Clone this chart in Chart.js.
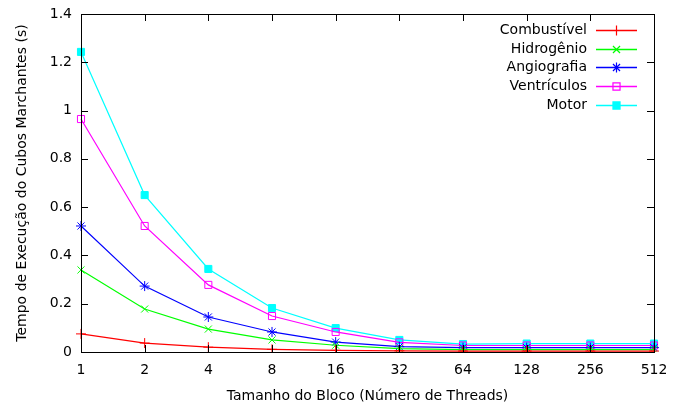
<!DOCTYPE html>
<html><head><meta charset="utf-8">
<script src="https://cdn.jsdelivr.net/npm/chart.js@4"></script>
<style>html,body{margin:0;padding:0;background:#fff}#wrap{width:677px;height:409px}</style>
</head><body><div id="wrap"><canvas id="c" width="677" height="409"></canvas></div>
<script>
const categories = ['1','2','4','8','16','32','64','128','256','512'];
const combustivel = [0.075,0.037,0.020,0.011,0.007,0.005,0.004,0.004,0.004,0.004];
const hidrogenio  = [0.340,0.178,0.095,0.050,0.028,0.014,0.010,0.010,0.010,0.010];
const angiografia = [0.522,0.273,0.145,0.083,0.041,0.022,0.018,0.018,0.018,0.018];
const ventriculos = [0.965,0.522,0.278,0.149,0.083,0.040,0.027,0.027,0.027,0.027];
const motor       = [1.243,0.650,0.344,0.182,0.099,0.050,0.033,0.035,0.035,0.035];
const yTicks = [0,0.2,0.4,0.6,0.8,1,1.2,1.4];

const FONT = 'DejaVu Sans';
const COLORS = ['#ff0000','#00ff00','#0000ff','#ff00ff','#00ffff'];
function ds(label, data, color, style, fill) {
  return {label, data, borderColor: color, backgroundColor: fill ? color : 'rgba(0,0,0,0)',
    pointBorderColor: color, pointBackgroundColor: fill ? color : 'rgba(0,0,0,0)',
    pointStyle: style, pointRadius: 5, pointBorderWidth: 1, borderWidth: 1.2,
    tension: 0, fill: false, pointHoverRadius: 5};
}
const datasets = [
  ds('Combustível', combustivel, COLORS[0], 'cross', false),
  ds('Hidrogênio', hidrogenio, COLORS[1], 'crossRot', false),
  ds('Angiografia', angiografia, COLORS[2], 'star', false),
  ds('Ventrículos', ventriculos, COLORS[3], 'rect', false),
  ds('Motor', motor, COLORS[4], 'rect', true),
];

const framePlugin = {
  id: 'frame',
  afterDatasetsDraw(chart) {
    const {ctx, chartArea: a, scales} = chart;
    ctx.save();
    ctx.strokeStyle = '#000'; ctx.lineWidth = 1;
    ctx.strokeRect(Math.round(a.left)+0.5, Math.round(a.top)+0.5, Math.round(a.right-a.left), Math.round(a.bottom-a.top));
    const tl = 7;
    ctx.beginPath();
    scales.x.ticks.forEach((t,i)=>{
      const x = Math.round(scales.x.getPixelForTick(i))+0.5;
      ctx.moveTo(x, a.bottom); ctx.lineTo(x, a.bottom - tl);
      ctx.moveTo(x, a.top); ctx.lineTo(x, a.top + tl);
    });
    scales.y.ticks.forEach((t,i)=>{
      const y = Math.round(scales.y.getPixelForTick(i))+0.5;
      ctx.moveTo(a.left, y); ctx.lineTo(a.left + tl, y);
      ctx.moveTo(a.right, y); ctx.lineTo(a.right - tl, y);
    });
    ctx.stroke();
    ctx.restore();
    // legend
    const textRight = 587, x0 = 596, x1 = 637, y0 = 30, dy = 18.7;
    chart.data.datasets.forEach((d,i)=>{
      const y = Math.round(y0 + i*dy) + 0.5;
      const col = COLORS[i];
      ctx.save();
      ctx.font = '14px "' + FONT + '"';
      ctx.textAlign = 'right'; ctx.textBaseline = 'middle';
      ctx.fillStyle = '#000';
      ctx.fillText(d.label, textRight, y);
      ctx.restore();
      ctx.save();
      ctx.strokeStyle = col; ctx.lineWidth = 1.6;
      ctx.beginPath(); ctx.moveTo(x0, y); ctx.lineTo(x1, y); ctx.stroke();
      ctx.restore();
      ctx.save();
      ctx.lineWidth = 1.2;
      ctx.fillStyle = d.pointBackgroundColor; ctx.strokeStyle = col;
      Chart.helpers.drawPoint(ctx, {pointStyle: d.pointStyle, radius: 5, borderWidth: 1.2, rotation: 0},
        (x0+x1)/2, y);
      ctx.restore();
    });
  }
};

new Chart(document.getElementById('c'), {
  type: 'line',
  data: {labels: categories, datasets},
  options: {
    responsive: false, animation: false, events: [],
    layout: {padding: {top: 14, right: 23, left: 0, bottom: 0}},
    plugins: {legend: {display: false}, tooltip: {enabled: false}},
    scales: {
      x: {
        type: 'category', offset: false,
        grid: {display: false}, border: {display: false},
        ticks: {color: '#000', font: {family: FONT, size: 14}, padding: 2, maxRotation: 0, autoSkip: false},
        title: {display: true, text: 'Tamanho do Bloco (Número de Threads)', color: '#000', font: {family: FONT, size: 14}, padding: {top: 19}},
        afterFit(s) { s.height = 57; }
      },
      y: {
        min: 0, max: 1.4,
        afterBuildTicks(s) { s.ticks = yTicks.map(v=>({value: v})); },
        grid: {display: false}, border: {display: false},
        ticks: {color: '#000', font: {family: FONT, size: 14}, padding: 1,
          callback: v => String(v)},
        title: {display: true, text: 'Tempo de Execução do Cubos Marchantes (s)', color: '#000', font: {family: FONT, size: 14}, padding: {top: 14, bottom: 0}},
        afterFit(s) { s.width = 81; }
      }
    }
  },
  plugins: [framePlugin]
});
</script>
</body></html>
